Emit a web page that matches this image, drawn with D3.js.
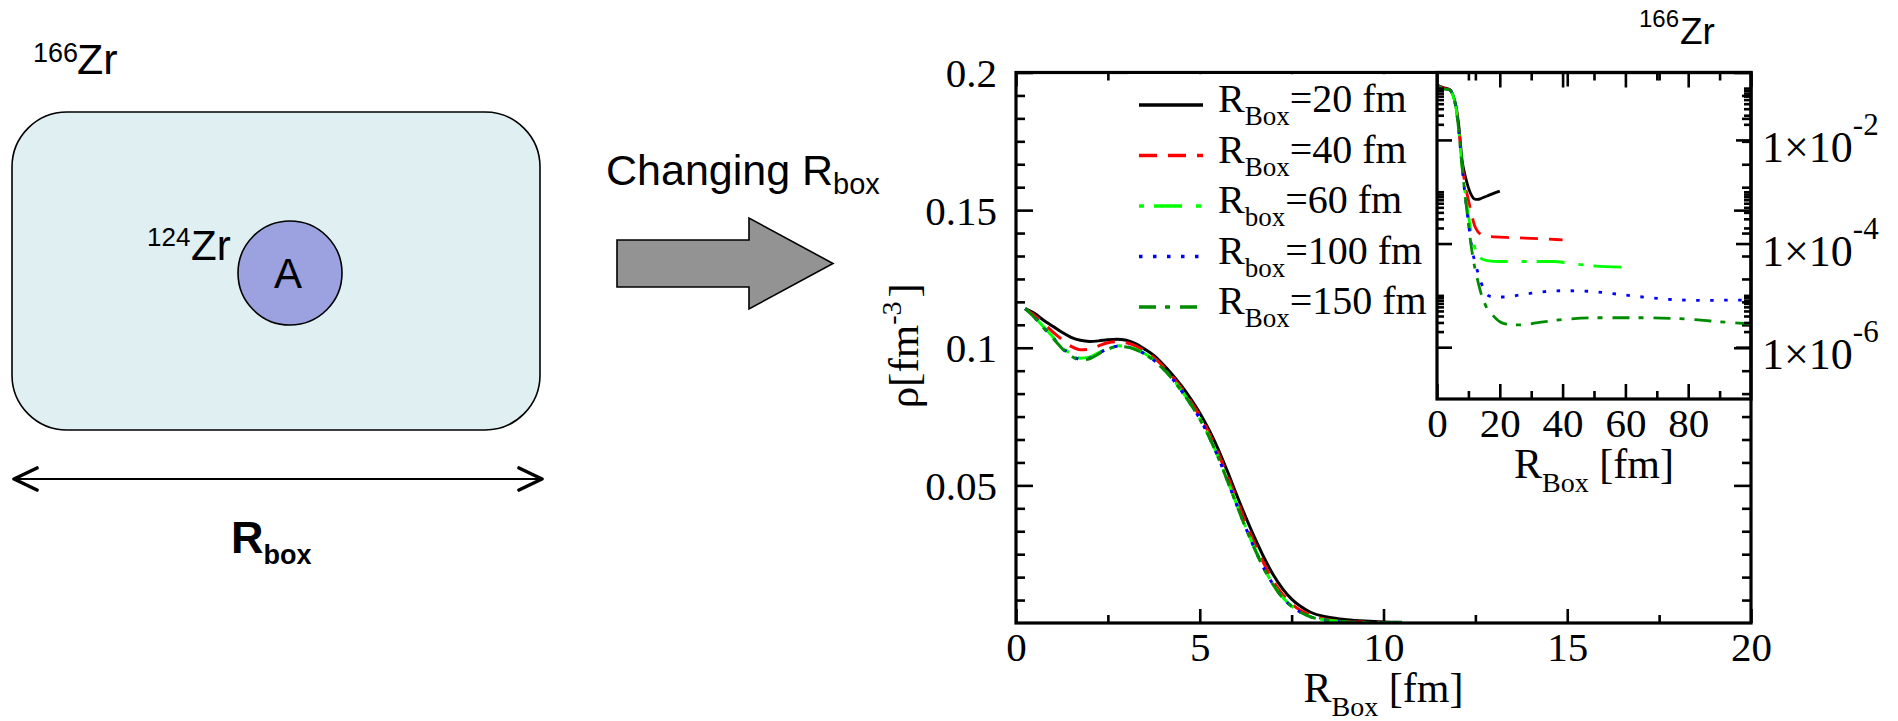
<!DOCTYPE html>
<html>
<head>
<meta charset="utf-8">
<script src="https://cdn.jsdelivr.net/npm/d3@7"></script>
<style>
  html, body { margin: 0; padding: 0; background: #fff; }
  svg { display: block; }
</style>
</head>
<body>
<svg id="fig" width="1898" height="721"></svg>
<script>
// ---------------------------------------------------------------
// Density profiles of 166Zr for several box radii
// ---------------------------------------------------------------

// Main panel: radial grid (fm) and density (fm^-3) for each box size
const profileR = [0.25, 0.5, 0.75, 1.0, 1.25, 1.5, 1.75, 2.0, 2.25, 2.5, 2.75, 3.0, 3.25, 3.5, 3.75,
  4.0, 4.25, 4.5, 4.75, 5.0, 5.25, 5.5, 5.75, 6.0, 6.25, 6.5, 6.75, 7.0, 7.25, 7.5, 7.75, 8.0,
  8.5, 9.0, 9.5, 10.0, 10.5];

const rhoBox20 = [0.1142, 0.1125, 0.1100, 0.1078, 0.1056, 0.1038, 0.1027, 0.1023, 0.1025, 0.1029,
  0.1031, 0.1027, 0.1015, 0.0995, 0.0972, 0.0940, 0.0903, 0.0862, 0.0815, 0.0763, 0.0702, 0.0632,
  0.0552, 0.0467, 0.0385, 0.0308, 0.0237, 0.0175, 0.0125, 0.0087, 0.0060, 0.0040, 0.0021, 0.0012,
  0.0007, 0.0004, 0.0003];

const rhoBox40 = [0.1142, 0.1118, 0.1088, 0.1058, 0.1030, 0.1005, 0.0993, 0.0995, 0.1007, 0.1018,
  0.1022, 0.1018, 0.1007, 0.0988, 0.0964, 0.0933, 0.0896, 0.0853, 0.0805, 0.0752, 0.0690, 0.0617,
  0.0535, 0.0450, 0.0365, 0.0287, 0.0215, 0.0153, 0.0105, 0.0070, 0.0045, 0.0029, 0.0012, 0.0005,
  0.0003, 0.0002, 0.00015];

const rhoBox60 = [0.1142, 0.1112, 0.1076, 0.1040, 0.1004, 0.0977, 0.0962, 0.0966, 0.0982, 0.0998,
  0.1007, 0.1005, 0.0995, 0.0979, 0.0956, 0.0926, 0.0889, 0.0845, 0.0797, 0.0743, 0.0679, 0.0604,
  0.0520, 0.0433, 0.0348, 0.0270, 0.0199, 0.0140, 0.0094, 0.0061, 0.0039, 0.0024, 0.0010, 0.0004,
  0.0002, 0.0001, 0.0001];

const rhoBox100 = [0.1142, 0.1111, 0.1074, 0.1037, 0.1000, 0.0973, 0.0958, 0.0962, 0.0980, 0.0996,
  0.1005, 0.1004, 0.0994, 0.0978, 0.0955, 0.0925, 0.0888, 0.0844, 0.0796, 0.0742, 0.0678, 0.0603,
  0.0518, 0.0431, 0.0346, 0.0268, 0.0197, 0.0139, 0.0093, 0.0060, 0.0038, 0.0023, 0.0009, 0.0004,
  0.0002, 0.0001, 0.0001];

const rhoBox150 = [0.1142, 0.1110, 0.1072, 0.1035, 0.0998, 0.0970, 0.0955, 0.0960, 0.0978, 0.0995,
  0.1004, 0.1003, 0.0993, 0.0977, 0.0954, 0.0924, 0.0887, 0.0843, 0.0795, 0.0741, 0.0677, 0.0602,
  0.0517, 0.0430, 0.0345, 0.0267, 0.0196, 0.0138, 0.0092, 0.0060, 0.0038, 0.0023, 0.0009, 0.0004,
  0.0002, 0.0001, 0.0001];

// Inset: the same densities on a log scale, out to the edge of each box
const tailR20 = [0, 2, 4, 5, 6, 7, 8, 9, 10, 11, 12, 13, 14, 16, 18, 20];
const tailRho20 = [0.115, 0.1023, 0.094, 0.0763, 0.0467, 0.0175, 0.0040, 0.0020, 0.0012, 0.00085,
  0.00072, 0.00071, 0.00074, 0.00083, 0.00093, 0.00103];

const tailR40 = [0, 2, 4, 5, 6, 7, 8, 9, 10, 11, 12, 13, 14, 16, 18, 22, 26, 30, 35, 40];
const tailRho40 = [0.115, 0.0995, 0.0933, 0.0752, 0.045, 0.0153, 0.0035, 0.0013, 0.0007, 0.00037,
  0.00022, 0.00017, 0.00015, 0.000138, 0.000135, 0.000131, 0.000129, 0.000126, 0.000122, 0.000118];

const tailR60 = [0, 2, 4, 5, 6, 7, 8, 9, 10, 11, 12, 13, 14, 16, 20, 25, 30, 37, 43, 48, 54, 60];
const tailRho60 = [0.115, 0.0966, 0.0926, 0.0743, 0.0433, 0.014, 0.003, 0.0009, 0.00035, 0.00015,
  0.000085, 0.000062, 0.000052, 0.000047, 0.000045, 0.000045, 0.000045, 0.000045, 0.000041,
  0.000038, 0.000036, 0.000035];

const tailR100 = [0, 2, 4, 5, 6, 7, 8, 9, 10, 11, 12, 13, 14, 15, 16.5, 18, 22, 26, 30, 35, 40, 45,
  50, 56, 62, 68, 75, 85, 95, 100];
const tailRho100 = [0.115, 0.0962, 0.0925, 0.0742, 0.0431, 0.0139, 0.003, 0.0008, 0.00025, 0.00009,
  0.000045, 0.000028, 0.000018, 0.000013, 0.0000098, 0.0000093, 0.0000093, 0.0000101, 0.000011,
  0.0000119, 0.0000123, 0.0000122, 0.0000118, 0.0000108, 0.0000098, 0.000009, 0.0000083,
  0.000008, 0.0000081, 0.0000081];

const tailR150 = [0, 2, 4, 5, 6, 7, 8, 9, 10, 11, 12, 13, 14, 15, 16, 17.5, 20, 22, 24.5, 27, 31, 36,
  42, 50, 58, 66, 75, 82, 87, 93, 100];
const tailRho150 = [0.115, 0.096, 0.0924, 0.0741, 0.043, 0.0138, 0.003, 0.0008, 0.00024, 0.00008,
  0.000035, 0.000019, 0.000011, 0.0000075, 0.0000055, 0.0000043, 0.0000031, 0.0000028,
  0.0000027, 0.0000027, 0.0000029, 0.0000032, 0.0000035, 0.0000037, 0.0000037, 0.0000037,
  0.0000036, 0.0000034, 0.0000032, 0.000003, 0.0000028];

// Series names and axis ticks
const boxSizes = [20, 40, 60, 100, 150];
const legendSub = ["Box", "Box", "box", "box", "Box"];
const mainXTicks = [0, 5, 10, 15, 20];
const mainYTicks = [0.05, 0.1, 0.15, 0.2];
const insetXTicks = [0, 20, 40, 60, 80];
const insetYTicks = [1e-2, 1e-4, 1e-6];
const insetYExponents = ["-2", "-4", "-6"];

// ---------------------------------------------------------------
const mainSeries = [rhoBox20, rhoBox40, rhoBox60, rhoBox100, rhoBox150]
  .map(vals => profileR.map((r, i) => [r, vals[i]]));
const insetSeries = [[tailR20, tailRho20], [tailR40, tailRho40], [tailR60, tailRho60],
  [tailR100, tailRho100], [tailR150, tailRho150]]
  .map(([rs, vs]) => rs.map((r, i) => [r, vs[i]]));

// line appearance per series
const lineStyle = [
  { color: "#000000", dash: null, offset: 0 },
  { color: "#ff0000", dash: "18,11", offset: 0 },
  { color: "#00ff00", dash: "28,14,5,10", offset: 42 },
  { color: "#0000ff", dash: "3.5,10.5", offset: 0 },
  { color: "#008c00", dash: "17,9,5,10", offset: 0 }
];

const SERIF = "'Liberation Serif', 'Times New Roman', serif";
const SANS = "'Liberation Sans', Arial, sans-serif";

const svg = d3.select("#fig");

// ---------------- left-hand sketch ----------------
const sketch = svg.append("g");

sketch.append("text").attr("x", 33).attr("y", 62)
  .attr("font-family", SANS).attr("font-size", 27).text("166");
sketch.append("text").attr("x", 77).attr("y", 74)
  .attr("font-family", SANS).attr("font-size", 43).text("Zr");

sketch.append("rect")
  .attr("x", 12).attr("y", 112).attr("width", 528).attr("height", 318)
  .attr("rx", 55).attr("ry", 55)
  .attr("fill", "#e0eff2").attr("stroke", "#000").attr("stroke-width", 1.6);

sketch.append("circle")
  .attr("cx", 290).attr("cy", 273).attr("r", 52)
  .attr("fill", "#9ca1df").attr("stroke", "#000").attr("stroke-width", 1.6);
sketch.append("text").attr("x", 288).attr("y", 288).attr("text-anchor", "middle")
  .attr("font-family", SANS).attr("font-size", 42).text("A");

sketch.append("text").attr("x", 147).attr("y", 246)
  .attr("font-family", SANS).attr("font-size", 26).text("124");
sketch.append("text").attr("x", 191).attr("y", 260)
  .attr("font-family", SANS).attr("font-size", 42).text("Zr");

// double-headed arrow for the box size
sketch.append("line")
  .attr("x1", 14).attr("x2", 542).attr("y1", 479).attr("y2", 479)
  .attr("stroke", "#000").attr("stroke-width", 2.2);
sketch.append("path")
  .attr("d", "M37,468 L14,479 L37,490 M519,468 L542,479 L519,490")
  .attr("fill", "none").attr("stroke", "#000").attr("stroke-width", 3.6)
  .attr("stroke-linecap", "round").attr("stroke-linejoin", "round");

const rb = sketch.append("text").attr("x", 231).attr("y", 553)
  .attr("font-family", SANS).attr("font-weight", "bold").attr("font-size", 45);
rb.append("tspan").text("R");
rb.append("tspan").attr("font-size", 27).attr("dy", 11).text("box");

// "Changing R_box" and the block arrow
const ch = sketch.append("text").attr("x", 606).attr("y", 185)
  .attr("font-family", SANS).attr("font-size", 43);
ch.append("tspan").text("Changing R");
ch.append("tspan").attr("font-size", 29).attr("dy", 9).text("box");

sketch.append("polygon")
  .attr("points", "617,240 749,240 749,218 833,263.5 749,309 749,287 617,287")
  .attr("fill", "#939393").attr("stroke", "#000").attr("stroke-width", 1.6)
  .attr("stroke-linejoin", "miter");

// title over the plot
svg.append("text").attr("x", 1639).attr("y", 27)
  .attr("font-family", SANS).attr("font-size", 24).text("166");
svg.append("text").attr("x", 1680).attr("y", 44)
  .attr("font-family", SANS).attr("font-size", 37).text("Zr");

// ---------------- main panel ----------------
const M = { left: 1016, right: 1751, top: 72.5, bottom: 623 };
const x = d3.scaleLinear().domain([0, 20]).range([M.left, M.right]);
const y = d3.scaleLinear().domain([0, 0.2]).range([M.bottom, M.top]);

const mainXMinor = [2.5, 7.5, 12.5, 17.5];
const mainYMinor = d3.range(1, 24).filter(i => i % 6 !== 0).map(i => i * 0.2 / 24);

function styleAxis(g, fontSize, labelled) {
  g.attr("font-family", SERIF).attr("font-size", fontSize);
  g.select(".domain").remove();
  g.selectAll(".tick line").attr("stroke", "#000").attr("stroke-width", 2.6);
  if (labelled) g.selectAll(".tick text").attr("fill", "#000");
  else g.selectAll(".tick text").remove();
  return g;
}

const main = svg.append("g");

// ticks on all four sides, pointing inwards
main.append("g").attr("transform", `translate(0,${M.bottom})`)
  .call(d3.axisBottom(x).tickValues(mainXTicks).tickSize(-14).tickPadding(9).tickFormat(d3.format("d")))
  .call(g => styleAxis(g, 41, true));
main.append("g").attr("transform", `translate(0,${M.bottom})`)
  .call(d3.axisBottom(x).tickValues(mainXMinor).tickSize(-8))
  .call(g => styleAxis(g, 41, false));
main.append("g").attr("transform", `translate(0,${M.top})`)
  .call(d3.axisTop(x).tickValues(mainXTicks).tickSize(-14))
  .call(g => styleAxis(g, 41, false));
main.append("g").attr("transform", `translate(0,${M.top})`)
  .call(d3.axisTop(x).tickValues(mainXMinor).tickSize(-8))
  .call(g => styleAxis(g, 41, false));

main.append("g").attr("transform", `translate(${M.left},0)`)
  .call(d3.axisLeft(y).tickValues(mainYTicks).tickSize(-17).tickPadding(19).tickFormat(d => String(d)))
  .call(g => styleAxis(g, 41, true))
  .call(g => g.selectAll(".tick text").attr("dy", "0.34em"));
main.append("g").attr("transform", `translate(${M.left},0)`)
  .call(d3.axisLeft(y).tickValues(mainYMinor).tickSize(-9))
  .call(g => styleAxis(g, 41, false));
main.append("g").attr("transform", `translate(${M.right},0)`)
  .call(d3.axisRight(y).tickValues(mainYTicks).tickSize(-17))
  .call(g => styleAxis(g, 41, false));
main.append("g").attr("transform", `translate(${M.right},0)`)
  .call(d3.axisRight(y).tickValues(mainYMinor).tickSize(-9))
  .call(g => styleAxis(g, 41, false));

// curves
svg.append("clipPath").attr("id", "mainClip").append("rect")
  .attr("x", M.left).attr("y", M.top).attr("width", M.right - M.left).attr("height", M.bottom - M.top);

const mainLine = d3.line().x(d => x(d[0])).y(d => y(d[1])).curve(d3.curveMonotoneX);
main.append("g").attr("clip-path", "url(#mainClip)")
  .selectAll("path").data(mainSeries).join("path")
  .attr("d", mainLine)
  .attr("fill", "none")
  .attr("stroke", (d, i) => lineStyle[i].color)
  .attr("stroke-width", 3)
  .attr("stroke-dasharray", (d, i) => lineStyle[i].dash)
  .attr("stroke-dashoffset", (d, i) => lineStyle[i].offset);

// frame
main.append("rect")
  .attr("x", M.left).attr("y", M.top).attr("width", M.right - M.left).attr("height", M.bottom - M.top)
  .attr("fill", "none").attr("stroke", "#000").attr("stroke-width", 3.2);

// axis titles
const xt = main.append("text").attr("x", (M.left + M.right) / 2).attr("y", 702)
  .attr("text-anchor", "middle").attr("font-family", SERIF).attr("font-size", 42);
xt.append("tspan").text("R");
xt.append("tspan").attr("font-size", 28).attr("dy", 14).text("Box");
xt.append("tspan").attr("dy", -14).text(" [fm]");

const yt = main.append("text")
  .attr("transform", `translate(918,${(M.top + M.bottom) / 2 - 2}) rotate(-90)`)
  .attr("text-anchor", "middle").attr("font-family", SERIF).attr("font-size", 43);
yt.append("tspan").text("ρ[fm");
yt.append("tspan").attr("font-size", 28).attr("dy", -17).text("-3");
yt.append("tspan").attr("dx", 4).attr("dy", 17).text("]");

// legend (opaque box over the top ticks)
const L = { x0: 1139, x1: 1203, tx: 1218, y0: 105, dy: 50.5 };
main.append("rect").attr("x", 1128).attr("y", 74.2).attr("width", 307).attr("height", 256)
  .attr("fill", "#fff");
const leg = main.append("g").selectAll("g").data(boxSizes).join("g")
  .attr("transform", (d, i) => `translate(0,${L.y0 + i * L.dy})`);
leg.append("line")
  .attr("x1", L.x0).attr("x2", L.x1).attr("y1", 0).attr("y2", 0)
  .attr("stroke", (d, i) => lineStyle[i].color)
  .attr("stroke-width", 3.3)
  .attr("stroke-dasharray", (d, i) => lineStyle[i].dash)
  .attr("stroke-dashoffset", (d, i) => lineStyle[i].offset);
const legText = leg.append("text").attr("x", L.tx).attr("y", 7)
  .attr("font-family", SERIF).attr("font-size", 40);
legText.append("tspan").text("R");
legText.append("tspan").attr("font-size", 27).attr("dy", 13).text((d, i) => legendSub[i]);
legText.append("tspan").attr("dy", -13).text(d => `=${d} fm`);

// ---------------- inset ----------------
const I = { left: 1437, right: 1751, top: 72.5, bottom: 399 };
const xi = d3.scaleLinear().domain([0, 100]).range([I.left, I.right]);
const yi = d3.scaleLog().domain([1e-7, 0.2]).range([I.bottom, I.top]);

const insetXMinor = [10, 30, 50, 70, 90];
const insetYMinor = [];
[-2, -4, -6].forEach(m => d3.range(2, 11).forEach(k => insetYMinor.push(k * Math.pow(10, m))));

const inset = svg.append("g");

svg.append("clipPath").attr("id", "insetClip").append("rect")
  .attr("x", I.left).attr("y", I.top).attr("width", I.right - I.left).attr("height", I.bottom - I.top);

const insetLine = d3.line().x(d => xi(d[0])).y(d => yi(d[1])).curve(d3.curveMonotoneX);
inset.append("g").attr("clip-path", "url(#insetClip)")
  .selectAll("path").data(insetSeries).join("path")
  .attr("d", insetLine)
  .attr("fill", "none")
  .attr("stroke", (d, i) => lineStyle[i].color)
  .attr("stroke-width", 2.8)
  .attr("stroke-dasharray", (d, i) => lineStyle[i].dash)
  .attr("stroke-dashoffset", (d, i) => lineStyle[i].offset);

inset.append("g").attr("transform", `translate(0,${I.bottom})`)
  .call(d3.axisBottom(xi).tickValues(insetXTicks).tickSize(-15).tickPadding(9).tickFormat(d3.format("d")))
  .call(g => styleAxis(g, 41, true));
inset.append("g").attr("transform", `translate(0,${I.bottom})`)
  .call(d3.axisBottom(xi).tickValues(insetXMinor).tickSize(-8))
  .call(g => styleAxis(g, 41, false));
inset.append("g").attr("transform", `translate(0,${I.top})`)
  .call(d3.axisTop(xi).tickValues(insetXTicks).tickSize(-15))
  .call(g => styleAxis(g, 41, false));
inset.append("g").attr("transform", `translate(0,${I.top})`)
  .call(d3.axisTop(xi).tickValues(insetXMinor).tickSize(-8))
  .call(g => styleAxis(g, 41, false));

inset.append("g").attr("transform", `translate(${I.left},0)`)
  .call(d3.axisLeft(yi).tickValues(insetYTicks).tickSize(-15))
  .call(g => styleAxis(g, 41, false));
inset.append("g").attr("transform", `translate(${I.left},0)`)
  .call(d3.axisLeft(yi).tickValues(insetYMinor).tickSize(-7))
  .call(g => styleAxis(g, 41, false));
inset.append("g").attr("transform", `translate(${I.right},0)`)
  .call(d3.axisRight(yi).tickValues(insetYMinor).tickSize(-7))
  .call(g => styleAxis(g, 41, false));
inset.append("g").attr("transform", `translate(${I.right},0)`)
  .call(d3.axisRight(yi).tickValues(insetYTicks).tickSize(-15).tickPadding(11).tickFormat(() => ""))
  .call(g => styleAxis(g, 44, true))
  .call(g => g.selectAll(".tick text").each(function (d, i) {
    const t = d3.select(this).attr("dy", "0.49em");
    t.append("tspan").text("1×10");
    t.append("tspan").attr("font-size", 31).attr("dy", -27).text(insetYExponents[i]);
  }));

inset.append("rect")
  .attr("x", I.left).attr("y", I.top).attr("width", I.right - I.left).attr("height", I.bottom - I.top)
  .attr("fill", "none").attr("stroke", "#000").attr("stroke-width", 3.2);

const it = inset.append("text").attr("x", (I.left + I.right) / 2).attr("y", 478)
  .attr("text-anchor", "middle").attr("font-family", SERIF).attr("font-size", 42);
it.append("tspan").text("R");
it.append("tspan").attr("font-size", 28).attr("dy", 14).text("Box");
it.append("tspan").attr("dy", -14).text(" [fm]");
</script>
</body>
</html>
